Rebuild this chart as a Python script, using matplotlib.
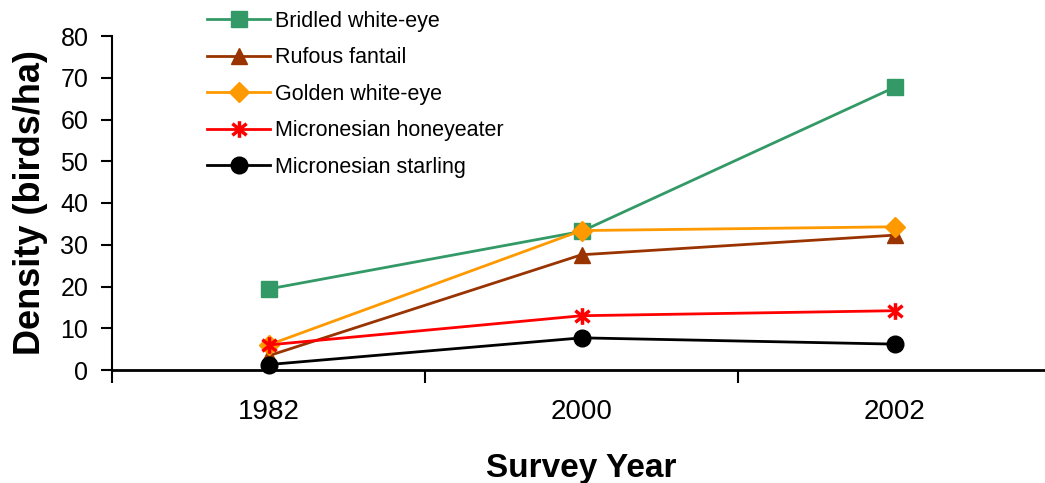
import matplotlib.pyplot as plt
import numpy as np
from matplotlib.path import Path

plt.rcParams['font.family'] = ['Liberation Sans', 'DejaVu Sans']

years = ["1982", "2000", "2002"]
bridled = [19.4, 33.2, 67.7]
rufous = [3.4, 27.6, 32.3]
golden = [6.0, 33.4, 34.3]
honeyeater = [6.0, 13.0, 14.2]
starling = [1.3, 7.7, 6.2]

# asterisk marker: vertical stroke plus two diagonals
asterisk = Path([(0, -1), (0, 1), (-0.85, -0.7), (0.85, 0.7), (-0.85, 0.7), (0.85, -0.7)],
                [Path.MOVETO, Path.LINETO, Path.MOVETO, Path.LINETO, Path.MOVETO, Path.LINETO])

series = [
    (bridled, "Bridled white-eye", "#339966", "s", 12),
    (rufous, "Rufous fantail", "#993300", "^", 12),
    (golden, "Golden white-eye", "#FF9900", "D", 10),
    (honeyeater, "Micronesian honeyeater", "#FF0000", asterisk, 12),
    (starling, "Micronesian starling", "#000000", "o", 12),
]

fig = plt.figure(figsize=(10.45, 4.83), dpi=100)
ax = fig.add_axes([112 / 1045, 113 / 483, 939 / 1045, 334 / 483])

x = np.arange(len(years))
for vals, name, col, mk, ms in series:
    if mk is asterisk:
        ax.plot(x, vals, color=col, lw=2, marker=mk, ms=ms, mec=col, mew=2.5,
                mfc="none", label=name, clip_on=False)
    else:
        ax.plot(x, vals, color=col, lw=2, marker=mk, ms=ms, mec=col, mfc=col,
                label=name, clip_on=False)

ax.set_xlim(-0.5, 2.5)
ax.set_ylim(0, 80)
ax.set_yticks(np.arange(0, 81, 10))
ax.set_xticks(x)
ax.set_xticklabels(years)
ax.set_xticks([-0.5, 0.5, 1.5, 2.5], minor=True)
ax.tick_params(axis='x', which='major', length=0, pad=21, labelsize=20)
ax.tick_params(axis='x', which='minor', length=9, width=1.5, direction='out')
ax.tick_params(axis='y', length=8, width=1.5, direction='out', labelsize=18, pad=9)

for s in ["top", "right"]:
    ax.spines[s].set_visible(False)
ax.spines["left"].set_linewidth(1.5)
ax.spines["bottom"].set_linewidth(2)

ax.set_ylabel("Density (birds/ha)", fontsize=26, fontweight='bold', labelpad=9)
ax.set_xlabel("Survey Year", fontsize=24, fontweight='bold', labelpad=20)

fig.legend(loc='upper left', bbox_to_anchor=(188 / 1045, 1.018), frameon=False,
           fontsize=15.5, handlelength=2.9, labelspacing=0.72, handletextpad=0.25)

fig.savefig("out.png", dpi=100)
